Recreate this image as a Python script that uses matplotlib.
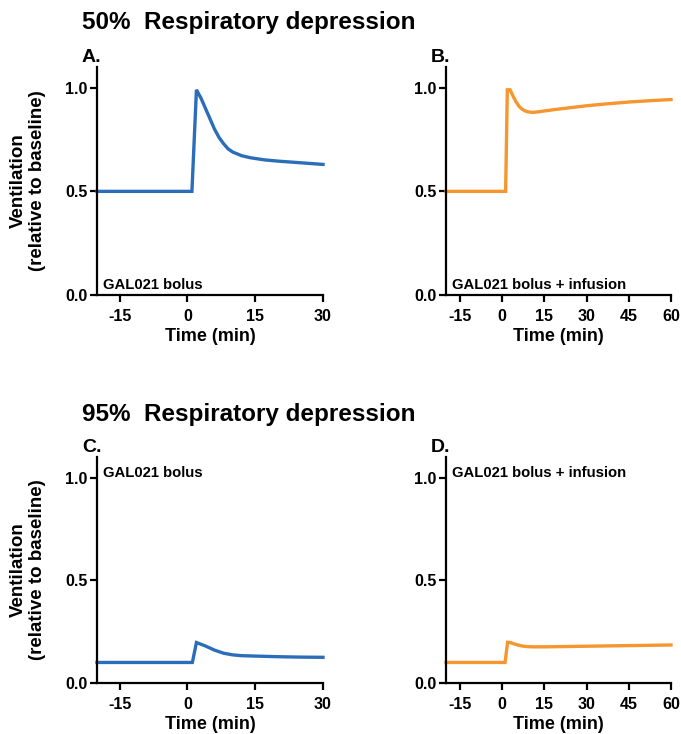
import numpy as np
import matplotlib
matplotlib.use("Agg")
import matplotlib.pyplot as plt

plt.rcParams['font.family'] = ['Liberation Sans', 'DejaVu Sans']
plt.rcParams['font.weight'] = 'bold'
plt.rcParams['axes.unicode_minus'] = False

blue = '#2b6db8'
orange = '#f5962f'

# panel A: 50% depression, bolus
t_a = [-20, 1, 2, 3, 4, 5, 6, 7, 8, 9, 10, 12, 14, 17, 20, 25, 30]
v_a = [0.5, 0.5, 0.99, 0.95, 0.90, 0.85, 0.80, 0.76, 0.73, 0.705, 0.69,
       0.672, 0.662, 0.652, 0.646, 0.638, 0.63]

# panel B: 50% depression, bolus + infusion
t_b = [-20, 1.2, 1.8, 2.8, 4, 5, 6, 7, 8, 9, 10, 11, 13, 15, 20, 25, 30,
       37, 45, 52, 60]
v_b = [0.5, 0.5, 0.99, 0.99, 0.955, 0.93, 0.91, 0.897, 0.889, 0.884, 0.882,
       0.881, 0.884, 0.888, 0.897, 0.905, 0.913, 0.922, 0.931, 0.937, 0.943]

# panel C: 95% depression, bolus
t_c = [-20, 1.1, 2.0, 4, 6, 8, 10, 12, 15, 20, 25, 30]
v_c = [0.1, 0.1, 0.197, 0.18, 0.16, 0.145, 0.137, 0.133, 0.131, 0.128,
       0.126, 0.125]

# panel D: 95% depression, bolus + infusion
t_d = [-20, 1.0, 1.9, 2.8, 5, 7, 9, 11, 15, 20, 30, 40, 50, 60]
v_d = [0.1, 0.1, 0.198, 0.197, 0.187, 0.18, 0.177, 0.176, 0.176, 0.177,
       0.179, 0.181, 0.183, 0.185]

xticks_short = [-15, 0, 15, 30]
xticks_long = [-15, 0, 15, 30, 45, 60]
yticks = [0.0, 0.5, 1.0]

W, H = 681, 734
fig = plt.figure(figsize=(W / 100, H / 100), dpi=100)


def make_ax(left, top, right, bottom):
    return fig.add_axes([left / W, 1 - bottom / H, (right - left) / W, (bottom - top) / H])


def style(ax, xmax, xticks):
    ax.set_xlim(-20, xmax)
    ax.set_ylim(0, 1.1)
    ax.set_xticks(xticks)
    ax.set_yticks(yticks)
    ax.set_yticklabels(['0.0', '0.5', '1.0'])
    for s in ['top', 'right']:
        ax.spines[s].set_visible(False)
    for s in ['left', 'bottom']:
        ax.spines[s].set_linewidth(1.6)
    ax.tick_params(width=1.6, length=5, labelsize=11.5)
    ax.tick_params(axis='x', pad=5)
    ax.tick_params(axis='y', pad=2)
    for lab in ax.get_xticklabels() + ax.get_yticklabels():
        lab.set_fontweight('bold')
    ax.set_xlabel('Time (min)', fontsize=13, fontweight='bold', labelpad=3)


panels = [
    (97, 67, 323, 295, t_a, v_a, blue, 30, xticks_short, 'A.', 'GAL021 bolus', 'bottom'),
    (446, 67, 671, 295, t_b, v_b, orange, 60, xticks_long, 'B.', 'GAL021 bolus + infusion', 'bottom'),
    (97, 457, 323, 683, t_c, v_c, blue, 30, xticks_short, 'C.', 'GAL021 bolus', 'top'),
    (446, 457, 671, 683, t_d, v_d, orange, 60, xticks_long, 'D.', 'GAL021 bolus + infusion', 'top'),
]

for left, top, right, bottom, t, v, col, xmax, xt, letter, note, where in panels:
    ax = make_ax(left, top, right, bottom)
    ax.plot(t, v, color=col, linewidth=2.4, clip_on=False, solid_joinstyle='miter')
    style(ax, xmax, xt)
    fig.text((left - 15) / W, 1 - (top - 10) / H, letter, fontsize=14,
             fontweight='bold', ha='left', va='center')
    if where == 'bottom':
        ax.text(0.025, 0.045, note, transform=ax.transAxes, fontsize=10.7,
                fontweight='bold', ha='left', va='center')
    else:
        ax.text(0.025, 0.93, note, transform=ax.transAxes, fontsize=10.7,
                fontweight='bold', ha='left', va='center')
    if letter in ('A.', 'C.'):
        fig.text(28 / W, 1 - ((top + bottom) / 2) / H,
                 'Ventilation\n(relative to baseline)', rotation=90,
                 fontsize=13.5, fontweight='bold', ha='center', va='center',
                 multialignment='center', linespacing=1.1)

fig.text(82 / W, 1 - 22 / H, '50%  Respiratory depression', fontsize=17.5,
         fontweight='bold', ha='left', va='center')
fig.text(82 / W, 1 - 414 / H, '95%  Respiratory depression', fontsize=17.5,
         fontweight='bold', ha='left', va='center')

fig.savefig('out.png', dpi=100)
